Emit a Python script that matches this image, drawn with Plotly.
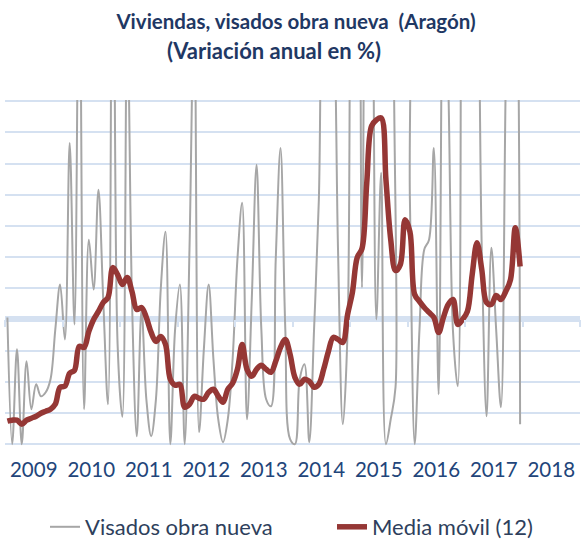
import plotly.graph_objects as go

# Monthly data, Jan 2009 .. Dec 2017 (annual variation, %)
years = ["2009", "2010", "2011", "2012", "2013", "2014", "2015", "2016", "2017", "2018"]

visados = [
    1.6, -100, -24, -100, -33.6, -72, -52, -61.6, -58.4, -48, -8, 28,
    -16, 141.6, -4, 320, -72, 64, 24, 104, 16, -68, 480, -20,
    -78, 250, 16, -93.6, 8, -64, -93.6, -64, 24, 70.4, -100, -8,
    28, -100, 56, 260, -90.4, -24, 28, -32, -80, -98.4, -80, -32,
    48, 93.6, -80, 16, 124, -8, -64, -69.6, 48, 137.6, -8, -96,
    -100, -48, -36, -98.4, -8, 96, 280, 300, 260, 56, -84, -8,
    400, 450, 25.6, 450, 350, 0, 117.6, -100, -80, -54.4, 350, 350,
    96, -100, -8, 56, 64, 137.6, -60, 300, 190, -10, -53.6, 500,
    400, 350, 300, 56, -77.6, 57.6, -8, -70.4, 190, 400, 350, -84,
]

media_movil = [
    -81.6, -80.8, -80.8, -84.0, -80.8, -79.2, -77.6, -75.2, -73.6, -72.0, -68.0, -54.4,
    -53.6, -43.2, -40.8, -21.6, -22.4, -9.6, 0.0, 6.4, 13.6, 17.6, 41.6, 36.0,
    28.0, 33.6, 22.4, 8.0, 9.6, 1.6, -10.4, -17.6, -13.6, -20.0, -48.0, -52.8,
    -52.0, -70.4, -68.0, -61.6, -63.2, -64.0, -58.4, -56.0, -61.6, -66.4, -56.0, -51.2,
    -40.0, -20.0, -40.0, -45.6, -40.0, -36.8, -40.0, -42.4, -33.6, -22.4, -16.0, -28.0,
    -46.4, -52.0, -48.0, -49.6, -54.4, -52.0, -40.0, -25.6, -14.4, -16.0, -18.4, 4.0,
    21.6, 49.6, 56.8, 109.6, 155.2, 160.0, 161.6, 112.0, 64.0, 39.2, 44.0, 80.0,
    70.4, 20.0, 14.4, 9.6, 5.6, 1.6, -10.4, 1.6, 12.0, 16.0, -4.0, 0.0,
    6.4, 36.0, 61.6, 40.0, 13.6, 12.0, 19.2, 16.0, 22.4, 32.0, 73.6, 42.4,
]

months = list(range(len(visados)))
n_cats = 12 * len(years)
label_pos = [12 * k + 5.5 for k in range(len(years))]
boundary_pos = [12 * k - 0.5 for k in range(len(years) + 1)]

Y_MIN, Y_MAX = -101.5, 176
GRID = "#D5E1F1"
NAVY = "#1F3864"
FONT = "Lato"

W, H = 581, 542
ML, MR, MT, MB = 5, 1, 100, 96
PW, PH = W - ML - MR, H - MT - MB


def px_x(px):
    return (px - ML) / PW


def px_y(py):
    return (H - MB - py) / PH


fig = go.Figure()
fig.add_trace(go.Scatter(
    x=months, y=visados, name="Visados obra nueva", mode="lines",
    line=dict(color="#A6A6A6", width=2, shape="spline", smoothing=1),
    legend="legend",
))
fig.add_trace(go.Scatter(
    x=months, y=media_movil, name="Media móvil (12)", mode="lines",
    line=dict(color="#953735", width=5.5, shape="spline", smoothing=1),
    legend="legend2",
))
# empty trace carrying the secondary axis that draws year ticks on the zero line
fig.add_trace(go.Scatter(x=[], y=[], xaxis="x2", showlegend=False, hoverinfo="skip"))

zero_frac = (0 - Y_MIN) / (Y_MAX - Y_MIN)
legend_font = dict(family=FONT, size=22, color="#2E3F5C")

fig.update_layout(
    width=W, height=H,
    margin=dict(l=ML, r=MR, t=MT, b=MB, autoexpand=False),
    paper_bgcolor="white", plot_bgcolor="white",
    font=dict(family=FONT, color=NAVY),
    title=dict(
        text="<b>Viviendas, visados obra nueva  (Aragón)</b>",
        x=296 / W, xanchor="center", xref="container",
        y=1 - 22 / H, yanchor="middle", yref="container",
        font=dict(family=FONT, size=20.5, color=NAVY),
    ),
    annotations=[dict(
        text="<b>(Variación anual en %)</b>",
        xref="paper", yref="paper",
        x=px_x(274), y=px_y(51),
        xanchor="center", yanchor="middle", showarrow=False,
        font=dict(family=FONT, size=22, color=NAVY),
    )],
    xaxis=dict(
        range=[-0.5, n_cats - 0.5],
        tickmode="array", tickvals=label_pos, ticktext=years,
        ticks="outside", ticklen=5, tickcolor="rgba(0,0,0,0)",
        showgrid=False, zeroline=False, showline=False,
        tickfont=dict(family=FONT, size=20.5, color="#22457A"),
        fixedrange=True,
    ),
    xaxis2=dict(
        overlaying="x", anchor="free", position=zero_frac, side="bottom",
        range=[-0.5, n_cats - 0.5],
        tickmode="array", tickvals=boundary_pos,
        ticks="outside", ticklen=7, tickwidth=2, tickcolor=GRID,
        showticklabels=False, showgrid=False, zeroline=False, showline=False,
    ),
    yaxis=dict(
        range=[Y_MIN, Y_MAX], tick0=0, dtick=25,
        showticklabels=False, ticks="",
        showgrid=True, gridcolor=GRID, gridwidth=2,
        zeroline=True, zerolinecolor=GRID, zerolinewidth=6,
        showline=False, fixedrange=True,
    ),
    legend=dict(
        orientation="h", x=px_x(45), xanchor="left",
        y=px_y(527), yanchor="middle",
        font=legend_font, bgcolor="rgba(0,0,0,0)",
    ),
    legend2=dict(
        orientation="h", x=px_x(332), xanchor="left",
        y=px_y(527), yanchor="middle",
        font=legend_font, bgcolor="rgba(0,0,0,0)",
    ),
    showlegend=True,
)

# remove the browser's default 8px body margin so the figure fills the window
fig.write_html(
    "out.html",
    config={"displayModeBar": False},
    post_script="document.body.style.margin='0';document.body.style.padding='0';",
)
